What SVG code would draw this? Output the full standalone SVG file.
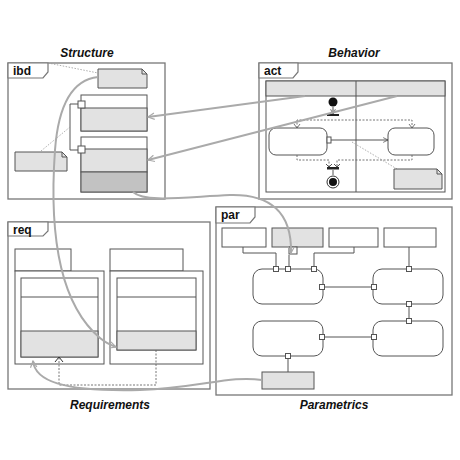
<svg xmlns="http://www.w3.org/2000/svg" width="460" height="460" viewBox="0 0 460 460">
<defs>
<style>
.frame{fill:none;stroke:#777;stroke-width:1.3}
.tab{fill:#fff;stroke:#777;stroke-width:1.2}
.box{fill:#fff;stroke:#555;stroke-width:1}
.g{fill:#e2e2e2;stroke:#555;stroke-width:1}
.dg{fill:#c2c2c2;stroke:#555;stroke-width:1}
.ln{fill:none;stroke:#555;stroke-width:1}
.dash{fill:none;stroke:#666;stroke-width:0.9;stroke-dasharray:2,1.5}
.dot{fill:none;stroke:#999;stroke-width:0.8;stroke-dasharray:1.5,1.5}
.cur{fill:none;stroke:#aaa;stroke-width:2}
.lbl{font-family:"Liberation Sans",Arial,sans-serif;font-weight:bold;font-size:12px;fill:#111}
.ttl{font-family:"Liberation Sans",Arial,sans-serif;font-weight:bold;font-style:italic;font-size:12px;fill:#111;text-anchor:middle}
</style>
<marker id="oa" viewBox="0 0 10 10" refX="9" refY="5" markerWidth="8" markerHeight="8" orient="auto" markerUnits="userSpaceOnUse">
<path d="M1,1 L9,5 L1,9" fill="none" stroke="#aaa" stroke-width="1.5"/>
</marker>
<marker id="sa" viewBox="0 0 10 10" refX="9" refY="5" markerWidth="6" markerHeight="6" orient="auto" markerUnits="userSpaceOnUse">
<path d="M1,1 L9,5 L1,9" fill="none" stroke="#444" stroke-width="1.2"/>
</marker>
</defs>

<!-- Structure -->
<g id="structure">
<text class="ttl" x="87" y="57">Structure</text>
<rect class="frame" x="8" y="63" width="157" height="136"/>
<path class="tab" d="M8,63 H48 V72 L43,78 H8 Z"/>
<text class="lbl" x="13" y="75">ibd</text>
<line class="dot" x1="48" y1="63" x2="98" y2="73"/>
<path class="g" d="M98,69 H142 L147,74 V88 H98 Z"/>
<path class="ln" d="M142,69 V74 H147"/>
<rect class="box" x="81" y="95" width="66" height="36"/>
<rect class="g" x="81" y="108" width="66" height="23"/>
<rect class="box" x="81" y="137" width="66" height="55"/>
<rect class="g" x="81" y="149" width="66" height="23"/>
<rect class="dg" x="81" y="172" width="66" height="20"/>
<path class="ln" d="M78,104 H70 V150 H78"/>
<rect class="box" x="78" y="101" width="7" height="7"/>
<rect class="box" x="78" y="146" width="7" height="7"/>
<line class="dot" x1="41" y1="151" x2="70" y2="127"/>
<path class="g" d="M15,152 H62 L67,157 V171 H15 Z"/>
<path class="ln" d="M62,152 V157 H67"/>
</g>

<!-- Behavior -->
<g id="behavior">
<text class="ttl" x="354" y="57">Behavior</text>
<rect class="frame" x="259" y="63" width="193" height="136"/>
<path class="tab" d="M259,63 H298 V72 L293,78 H259 Z"/>
<text class="lbl" x="264" y="75">act</text>
<rect class="box" x="266" y="81" width="179" height="111"/>
<rect class="g" x="266" y="81" width="179" height="15"/>
<line class="ln" x1="356" y1="81" x2="356" y2="192"/>
<circle cx="333" cy="102" r="4.5" fill="#111"/>
<line class="ln" x1="333" y1="107" x2="333" y2="114" marker-end="url(#sa)"/>
<rect x="327" y="114" width="12" height="2" fill="#222"/>
<path class="dash" d="M297,128 V120 H412 V128"/>
<path d="M294,124 L297,128 L300,124 M409,124 L412,128 L415,124" fill="none" stroke="#666" stroke-width="0.9"/>
<rect class="box" x="269" y="128" width="58" height="27" rx="7"/>
<rect class="box" x="388" y="128" width="46" height="27" rx="7"/>
<rect class="box" x="327" y="137" width="4" height="6"/>
<line class="ln" x1="331" y1="140" x2="388" y2="140" marker-end="url(#sa)"/>
<path class="dash" d="M297,155 V160 H329 V167 M412,155 V160 H337 V167"/>
<path d="M326,164 L329,167 L332,164 M334,164 L337,167 L340,164" fill="none" stroke="#444" stroke-width="0.9"/>
<rect x="327" y="167" width="12" height="2.5" fill="#222"/>
<line class="ln" x1="333" y1="170" x2="333" y2="175"/>
<circle cx="333" cy="182" r="6" fill="#fff" stroke="#333" stroke-width="1"/>
<circle cx="333" cy="182" r="4" fill="#111"/>
<line class="dot" x1="352" y1="142" x2="397" y2="169"/>
<path class="g" d="M394,169 H437 L442,174 V189 H394 Z"/>
<path class="ln" d="M437,169 V174 H442"/>
</g>

<!-- Requirements -->
<g id="requirements">
<text class="ttl" x="110" y="409">Requirements</text>
<rect class="frame" x="8" y="222" width="202" height="167"/>
<path class="tab" d="M8,222 H48 V231 L43,236 H8 Z"/>
<text class="lbl" x="13" y="234">req</text>
<rect class="box" x="15" y="249" width="56" height="22"/>
<rect class="box" x="15" y="271" width="89" height="93"/>
<rect class="box" x="21" y="278" width="77" height="79"/>
<line class="ln" x1="21" y1="297" x2="98" y2="297"/>
<rect class="g" x="21" y="331" width="77" height="26"/>
<rect class="box" x="110" y="249" width="73" height="22"/>
<rect class="box" x="110" y="271" width="93" height="93"/>
<rect class="box" x="117" y="278" width="79" height="72"/>
<line class="ln" x1="117" y1="297" x2="196" y2="297"/>
<rect class="g" x="117" y="331" width="79" height="19"/>
<path class="dash" d="M156,350 V385 H59 V357"/>
<path d="M55,362 L59,357 L63,362" fill="none" stroke="#333" stroke-width="1"/>
</g>

<!-- Parametrics -->
<g id="parametrics">
<text class="ttl" x="334" y="409">Parametrics</text>
<rect class="frame" x="216" y="207" width="236" height="188"/>
<path class="tab" d="M216,207 H255 V217 L250,223 H216 Z"/>
<text class="lbl" x="221" y="219">par</text>
<rect class="box" x="222" y="228" width="44" height="19"/>
<rect class="g" x="272" y="228" width="51" height="19"/>
<rect class="box" x="329" y="228" width="49" height="19"/>
<rect class="box" x="384" y="228" width="52" height="19"/>
<rect class="box" x="253" y="269" width="70" height="35" rx="9"/>
<rect class="box" x="373" y="269" width="70" height="35" rx="9"/>
<rect class="box" x="253" y="321" width="70" height="35" rx="9"/>
<rect class="box" x="373" y="321" width="70" height="35" rx="9"/>
<rect class="g" x="262" y="372" width="52" height="17"/>
<path class="ln" d="M243,247 V253 H276 V268"/>
<path class="ln" d="M289,255 V268"/>
<path class="ln" d="M354,247 V253 H314 V268"/>
<path class="ln" d="M409,247 V268"/>
<path class="ln" d="M323,287 H372"/>
<path class="ln" d="M409,304 V321"/>
<path class="ln" d="M323,337 H372"/>
<path class="ln" d="M288,356 V372"/>
<rect class="box" x="289" y="247" width="8" height="7"/>
<rect class="box" x="273.5" y="266.5" width="5" height="5"/>
<rect class="box" x="285.5" y="266.5" width="5" height="5"/>
<rect class="box" x="311.5" y="266.5" width="5" height="5"/>
<rect class="box" x="319.5" y="284.5" width="5" height="5"/>
<rect class="box" x="371.5" y="284.5" width="5" height="5"/>
<rect class="box" x="406.5" y="266.5" width="5" height="5"/>
<rect class="box" x="406.5" y="301.5" width="5" height="5"/>
<rect class="box" x="406.5" y="318.5" width="5" height="5"/>
<rect class="box" x="319.5" y="334.5" width="5" height="5"/>
<rect class="box" x="371.5" y="334.5" width="5" height="5"/>
<rect class="box" x="285.5" y="353.5" width="5" height="5"/>
</g>

<!-- Connectors -->
<g id="connectors">
<path class="cur" d="M305,96 L148,117" marker-end="url(#oa)"/>
<path class="cur" d="M397,96 L148,160" marker-end="url(#oa)"/>
<path class="cur" d="M133,192 C145,203 185,197 230,195 C270,194 292,212 291,253" marker-end="url(#oa)"/>
<path class="cur" d="M98,77 C70,80 58,110 55,150 C50,220 55,300 100,338 C106,343 110,345 116,347" marker-end="url(#oa)"/>
<path class="cur" d="M262,380 C230,375 200,388 140,390 C60,392 35,380 33,361" marker-end="url(#oa)"/>
</g>
</svg>
